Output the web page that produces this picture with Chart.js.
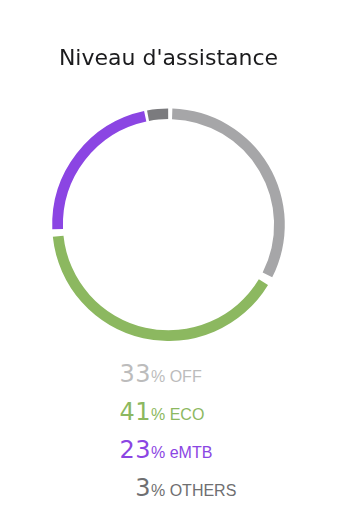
<!DOCTYPE html>
<html>
<head>
<meta charset="utf-8">
<script src="https://cdn.jsdelivr.net/npm/chart.js@4"></script>
<style>
  body { margin: 0; background: #fff; font-family: "Liberation Sans", Arial, sans-serif; }
  #wrap { position: absolute; left: 0; top: 0; width: 341px; height: 341px; }
  #js-legend { position: absolute; left: 0; top: 355px; width: 341px; }
  #js-legend ul { list-style: none; margin: 0; padding: 0; }
  #js-legend li { display: flex; align-items: baseline; height: 38px; line-height: 38px; }
  #js-legend .num { width: 151px; text-align: right; font-family: "DejaVu Sans", sans-serif; font-size: 24px; letter-spacing: 0.5px; }
  #js-legend .lbl { font-size: 16px; padding-left: 0; }
</style>
</head>
<body>
<div id="wrap"><canvas id="assist-chart"></canvas></div>
<div id="js-legend"></div>
<script>
let labels = ['OFF', 'ECO', 'eMTB', 'OTHERS'];
let values = [33, 41, 23, 3];
let arcColours = ['#a6a6a8', '#8cb860', '#8b45e3', '#7b7b7e'];
let textColours = ['#bcbcbc', '#8cb860', '#8b45e3', '#6f6f71'];

window.addEventListener('DOMContentLoaded', () => {
  var chartBox = document.getElementById('assist-chart');
  var chart = new Chart(chartBox, {
    type: 'doughnut',
    data: {
      labels: labels,
      datasets: [{
        data: values,
        backgroundColor: arcColours,
        borderWidth: 0,
        spacing: 7
      }]
    },
    options: {
      responsive: true,
      maintainAspectRatio: false,
      animation: false,
      cutout: '90.5%',
      layout: { padding: { left: 0, right: 4 } },
      plugins: {
        legend: { display: false },
        tooltip: { enabled: false },
        title: {
          display: true,
          text: "Niveau d'assistance",
          color: '#1b1b1d',
          font: { family: '"DejaVu Sans", sans-serif', size: 22, weight: 'normal', lineHeight: 1.2 },
          padding: { top: 46, bottom: 36 }
        }
      }
    }
  });

  // legend as html below the ring
  const ul = document.createElement('ul');
  chart.data.labels.forEach((label, i) => {
    ul.innerHTML += `<li style="color:${textColours[i]}">
      <span class="num">${chart.data.datasets[0].data[i]}</span><span class="lbl">% ${label}</span>
    </li>`;
  });
  document.getElementById('js-legend').appendChild(ul);
});
</script>
</body>
</html>
